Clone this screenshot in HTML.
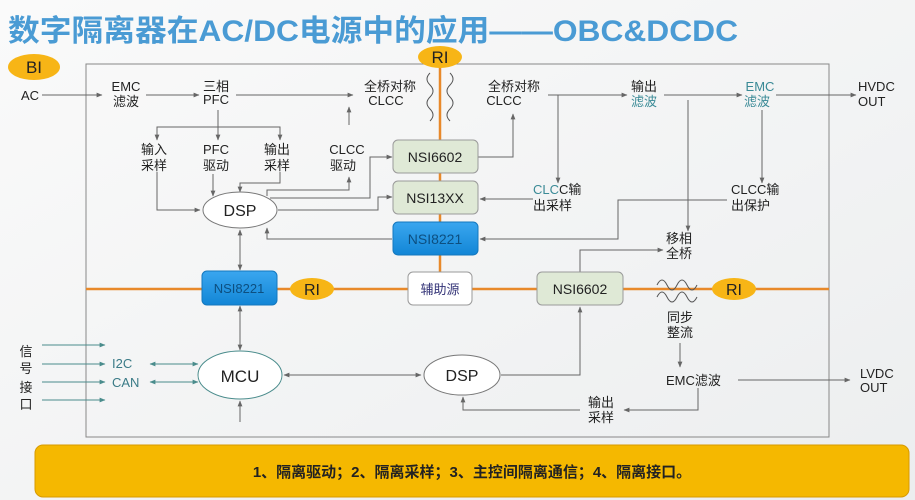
<!DOCTYPE html>
<html><head><meta charset="utf-8"><style>
html,body{margin:0;padding:0;width:915px;height:500px;overflow:hidden;background:#f4f5f6}
svg{display:block}
text{font-family:"Liberation Sans","Noto Sans CJK SC",sans-serif;fill:#222}
</style></head><body>
<svg width="915" height="500" viewBox="0 0 915 500" xmlns="http://www.w3.org/2000/svg">
<defs>
<marker id="a" viewBox="0 0 10 10" refX="9" refY="5" markerWidth="6" markerHeight="6" orient="auto-start-reverse"><path d="M0,1 L10,5 L0,9 z" fill="#666"/></marker>
<marker id="b" viewBox="0 0 10 10" refX="9" refY="5" markerWidth="6" markerHeight="6" orient="auto-start-reverse"><path d="M0,1 L10,5 L0,9 z" fill="#4a8c8c"/></marker>
<linearGradient id="bg" x1="0" y1="0" x2="1" y2="1"><stop offset="0" stop-color="#fafafa"/><stop offset="1" stop-color="#eceeef"/></linearGradient>
<linearGradient id="bl" x1="0" y1="0" x2="0" y2="1"><stop offset="0" stop-color="#3aa6ef"/><stop offset="1" stop-color="#1286d6"/></linearGradient>
</defs>
<rect width="915" height="500" fill="url(#bg)"/>
<text x="8" y="41" font-size="30" font-weight="bold" textLength="730" lengthAdjust="spacingAndGlyphs" style="fill:#4a9bd4">数字隔离器在AC/DC电源中的应用——OBC&amp;DCDC</text>
<ellipse cx="34" cy="67" rx="26" ry="13" fill="#f7b516"/>
<text x="34" y="73" font-size="17" text-anchor="middle">BI</text>
<rect x="86" y="64" width="743" height="373" fill="none" stroke="#888" stroke-width="1"/>
<line x1="440" y1="62" x2="440" y2="289" stroke="#e8892a" stroke-width="2.5"/>
<line x1="86" y1="289" x2="829" y2="289" stroke="#e8892a" stroke-width="2.5"/>
<ellipse cx="440" cy="57" rx="22" ry="11" fill="#f7b516"/>
<text x="440" y="63" font-size="17" text-anchor="middle">RI</text>
<path d="M430,73 q-6,6 0,12 q6,6 0,12 q-6,6 0,12 q6,6 0,12" fill="none" stroke="#555"/>
<path d="M450,73 q6,6 0,12 q-6,6 0,12 q6,6 0,12 q-6,6 0,12" fill="none" stroke="#555"/>
<g stroke="#666" stroke-width="1" fill="none">
<line x1="42" y1="95" x2="102" y2="95" marker-end="url(#a)"/>
<line x1="146" y1="95" x2="199" y2="95" marker-end="url(#a)"/>
<line x1="236" y1="95" x2="353" y2="95" marker-end="url(#a)"/>
<line x1="218" y1="110" x2="218" y2="140" marker-end="url(#a)"/>
<polyline points="157,140 157,127 280,127 280,140" marker-start="url(#a)" marker-end="url(#a)"/>
<polyline points="157,172 157,210 200,210" marker-end="url(#a)"/>
<line x1="213" y1="174" x2="213" y2="196" marker-end="url(#a)"/>
<polyline points="280,172 280,183 240,183 240,192" marker-end="url(#a)"/>
<line x1="349" y1="125" x2="349" y2="107" marker-end="url(#a)"/>
<polyline points="267,196 267,190 349,190 349,177" marker-end="url(#a)"/>
<polyline points="270,198 370,198 370,157 392,157" marker-end="url(#a)"/>
<polyline points="278,210 378,210 378,197 392,197" marker-end="url(#a)"/>
<polyline points="392,239 267,239 267,228" marker-end="url(#a)"/>
<polyline points="478,157 513,157 513,114" marker-end="url(#a)"/>
<line x1="548" y1="95" x2="627" y2="95" marker-end="url(#a)"/>
<line x1="558" y1="95" x2="558" y2="183" marker-end="url(#a)"/>
<line x1="664" y1="95" x2="742" y2="95" marker-end="url(#a)"/>
<line x1="688" y1="100" x2="688" y2="231" marker-end="url(#a)"/>
<line x1="776" y1="95" x2="856" y2="95" marker-end="url(#a)"/>
<line x1="762" y1="110" x2="762" y2="183" marker-end="url(#a)"/>
<line x1="533" y1="199" x2="480" y2="199" marker-end="url(#a)"/>
<polyline points="727,200 618,200 618,239 480,239" marker-end="url(#a)"/>
<polyline points="580,272 580,250 663,250" marker-end="url(#a)"/>
<line x1="240" y1="230" x2="240" y2="270" marker-start="url(#a)" marker-end="url(#a)"/>
<line x1="240" y1="306" x2="240" y2="350" marker-start="url(#a)" marker-end="url(#a)"/>
<line x1="240" y1="422" x2="240" y2="401" marker-end="url(#a)"/>
<line x1="284" y1="375" x2="421" y2="375" marker-start="url(#a)" marker-end="url(#a)"/>
<polyline points="501,375 580,375 580,307" marker-end="url(#a)"/>
<line x1="680" y1="343" x2="680" y2="367" marker-end="url(#a)"/>
<line x1="738" y1="380" x2="850" y2="380" marker-end="url(#a)"/>
<polyline points="698,388 698,410 624,410" marker-end="url(#a)"/>
<polyline points="580,410 463,410 463,397" marker-end="url(#a)"/>
</g>
<g stroke="#4a8c8c" stroke-width="1" fill="none">
<line x1="42" y1="345" x2="105" y2="345" marker-end="url(#b)"/>
<line x1="42" y1="364" x2="105" y2="364" marker-end="url(#b)"/>
<line x1="42" y1="382" x2="105" y2="382" marker-end="url(#b)"/>
<line x1="42" y1="400" x2="105" y2="400" marker-end="url(#b)"/>
<line x1="150" y1="364" x2="198" y2="364" marker-start="url(#b)" marker-end="url(#b)"/>
<line x1="150" y1="382" x2="198" y2="382" marker-start="url(#b)" marker-end="url(#b)"/>
</g>
<rect x="393" y="140" width="85" height="33" rx="5" fill="#dfe9d6" stroke="#9a9a9a"/>
<text x="435" y="162" font-size="14" text-anchor="middle">NSI6602</text>
<rect x="393" y="181" width="85" height="33" rx="5" fill="#dfe9d6" stroke="#9a9a9a"/>
<text x="435" y="203" font-size="14" text-anchor="middle">NSI13XX</text>
<rect x="393" y="222" width="85" height="33" rx="5" fill="url(#bl)" stroke="#1478be"/>
<text x="435" y="244" font-size="14" text-anchor="middle" style="fill:#0d4f80">NSI8221</text>
<rect x="408" y="272" width="64" height="33" rx="5" fill="#fff" stroke="#9a9a9a"/>
<text x="440" y="294" font-size="13" text-anchor="middle" style="fill:#337">辅助源</text>
<rect x="202" y="271" width="75" height="34" rx="5" fill="url(#bl)" stroke="#1478be"/>
<text x="239" y="293" font-size="13" text-anchor="middle" style="fill:#0d4f80">NSI8221</text>
<ellipse cx="312" cy="289" rx="22" ry="11" fill="#f7b516"/>
<text x="312" y="295" font-size="16" text-anchor="middle">RI</text>
<rect x="537" y="272" width="86" height="33" rx="5" fill="#dfe9d6" stroke="#9a9a9a"/>
<text x="580" y="294" font-size="14" text-anchor="middle">NSI6602</text>
<path d="M657,285 q5,-10 10,0 q5,10 10,0 q5,-10 10,0 q5,10 10,0" fill="none" stroke="#555"/>
<path d="M657,297 q5,-10 10,0 q5,10 10,0 q5,-10 10,0 q5,10 10,0" fill="none" stroke="#555"/>
<ellipse cx="734" cy="289" rx="22" ry="11" fill="#f7b516"/>
<text x="734" y="295" font-size="16" text-anchor="middle">RI</text>
<ellipse cx="240" cy="210" rx="37" ry="18" fill="#fff" stroke="#777"/>
<text x="240" y="216" font-size="16" text-anchor="middle">DSP</text>
<ellipse cx="240" cy="375" rx="42" ry="24" fill="#fff" stroke="#4a8c8c"/>
<text x="240" y="382" font-size="17" text-anchor="middle">MCU</text>
<ellipse cx="462" cy="375" rx="38" ry="20" fill="#fff" stroke="#777"/>
<text x="462" y="381" font-size="16" text-anchor="middle">DSP</text>
<g font-size="13">
<text x="30" y="100" text-anchor="middle">AC</text>
<text x="126" y="91" text-anchor="middle">EMC</text><text x="126" y="106" text-anchor="middle">滤波</text>
<text x="216" y="91" text-anchor="middle">三相</text><text x="216" y="104" text-anchor="middle">PFC</text>
<text x="390" y="91" text-anchor="middle">全桥对称</text><text x="386" y="105" text-anchor="middle">CLCC</text>
<text x="514" y="91" text-anchor="middle">全桥对称</text><text x="504" y="105" text-anchor="middle">CLCC</text>
<text x="644" y="91" text-anchor="middle">输出</text><text x="644" y="106" text-anchor="middle" style="fill:#3a8a96">滤波</text>
<text x="760" y="91" text-anchor="middle" style="fill:#3a8a96">EMC</text><text x="757" y="106" text-anchor="middle" style="fill:#3a8a96">滤波</text>
<text x="858" y="91">HVDC</text><text x="858" y="106">OUT</text>
<text x="154" y="154" text-anchor="middle">输入</text><text x="154" y="170" text-anchor="middle">采样</text>
<text x="216" y="154" text-anchor="middle">PFC</text><text x="216" y="170" text-anchor="middle">驱动</text>
<text x="277" y="154" text-anchor="middle">输出</text><text x="277" y="170" text-anchor="middle">采样</text>
<text x="347" y="154" text-anchor="middle">CLCC</text><text x="343" y="170" text-anchor="middle">驱动</text>
<text x="533" y="194"><tspan style="fill:#3a8a96">CLC</tspan>C输</text><text x="533" y="210">出采样</text>
<text x="731" y="194">CLCC输</text><text x="731" y="210">出保护</text>
<text x="666" y="243">移相</text><text x="666" y="258">全桥</text>
<text x="680" y="322" text-anchor="middle">同步</text><text x="680" y="337" text-anchor="middle">整流</text>
<text x="666" y="385">EMC滤波</text>
<text x="860" y="378">LVDC</text><text x="860" y="392">OUT</text>
<text x="588" y="407">输出</text><text x="588" y="422">采样</text>
<text x="112" y="368" style="fill:#3a7a86">I2C</text>
<text x="112" y="387" style="fill:#3a7a86">CAN</text>
<text x="26" y="356" text-anchor="middle">信</text><text x="26" y="373" text-anchor="middle">号</text>
<text x="26" y="392" text-anchor="middle">接</text><text x="26" y="409" text-anchor="middle">口</text>
</g>
<rect x="35" y="445" width="874" height="52" rx="8" fill="#f5b800" stroke="#d79a00"/>
<text x="472" y="477" font-size="15" font-weight="bold" text-anchor="middle">1、隔离驱动；2、隔离采样；3、主控间隔离通信；4、隔离接口。</text>
</svg>
</body></html>
